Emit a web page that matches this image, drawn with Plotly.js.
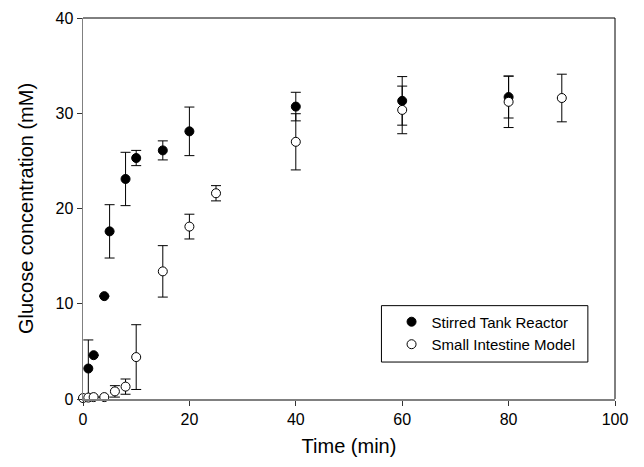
<!DOCTYPE html>
<html>
<head>
<meta charset="utf-8">
<script src="https://cdn.plot.ly/plotly-3.0.1.min.js"></script>
<style>html,body{margin:0;padding:0;background:#fff;}#chart{width:644px;height:467px;}</style>
</head>
<body>
<div id="chart"></div>
<script>
// Stirred Tank Reactor (filled circles)
var strTime = [1, 2, 4, 5, 8, 10, 15, 20, 40, 60, 80];
var strGlc  = [3.2, 4.6, 10.8, 17.6, 23.1, 25.3, 26.1, 28.1, 30.7, 31.3, 31.7];
var strErr  = [3.0, 0, 0, 2.8, 2.8, 0.8, 1.0, 2.55, 1.5, 2.55, 2.2];

// Small Intestine Model (open circles)
var simTime = [0, 1, 2, 4, 6, 8, 10, 15, 20, 25, 40, 60, 80, 90];
var simGlc  = [0.1, 0.15, 0.2, 0.2, 0.8, 1.3, 4.4, 13.4, 18.1, 21.6, 27.0, 30.35, 31.2, 31.6];
var simErr  = [0, 0, 0, 0, 0.6, 0.8, 3.4, 2.7, 1.3, 0.8, 2.95, 2.5, 2.7, 2.5];

var xTicks = [0, 20, 40, 60, 80, 100];
var yTicks = [0, 10, 20, 30, 40];

var FONT = 'Liberation Sans, Arial, sans-serif';

var traces = [
  {
    x: strTime, y: strGlc, type: 'scatter', mode: 'markers',
    name: 'Stirred Tank Reactor', cliponaxis: false,
    marker: {symbol: 'circle', size: 9, color: '#000', line: {color: '#000', width: 1}},
    error_y: {type: 'data', array: strErr, visible: true, color: '#000', thickness: 1, width: 5}
  },
  {
    x: simTime, y: simGlc, type: 'scatter', mode: 'markers',
    name: 'Small Intestine Model', cliponaxis: false,
    marker: {symbol: 'circle', size: 9, color: '#fff', line: {color: '#000', width: 1}},
    error_y: {type: 'data', array: simErr, visible: true, color: '#000', thickness: 1, width: 5}
  }
];

var layout = {
  width: 644, height: 467,
  margin: {l: 83, r: 29, t: 18, b: 68},
  paper_bgcolor: '#fff', plot_bgcolor: '#fff',
  font: {family: FONT, color: '#000'},
  showlegend: true,
  legend: {
    x: 0.58, y: 0.2455, xanchor: 'left', yanchor: 'top',
    bgcolor: 'rgba(0,0,0,0)', borderwidth: 0,
    font: {family: FONT, size: 15, color: '#000'},
    tracegroupgap: 0
  },
  xaxis: {
    range: [0, 100], tickvals: xTicks, ticktext: xTicks.map(String),
    showgrid: false, zeroline: false,
    showline: true, linecolor: '#808080', linewidth: 1.5,
    ticks: 'outside', ticklen: 5, tickwidth: 1, tickcolor: '#333',
    tickfont: {family: FONT, size: 16, color: '#000'},
    title: {text: 'Time (min)', font: {family: FONT, size: 20, color: '#000'}, standoff: 12},
    automargin: false
  },
  yaxis: {
    range: [0, 40], tickvals: yTicks, ticktext: yTicks.map(String),
    showgrid: false, zeroline: false,
    showline: true, linecolor: '#808080', linewidth: 1.5,
    ticks: 'outside', ticklen: 5, tickwidth: 1, tickcolor: '#333',
    tickfont: {family: FONT, size: 16, color: '#000'},
    title: {text: 'Glucose concentration (mM)', font: {family: FONT, size: 20, color: '#000'}, standoff: 16},
    automargin: false
  },
  shapes: [
    {type: 'line', xref: 'paper', yref: 'paper', x0: 0, x1: 1, y0: 1, y1: 1, line: {color: '#000', width: 1}},
    {type: 'line', xref: 'paper', yref: 'paper', x0: 1, x1: 1, y0: 0, y1: 1, line: {color: '#000', width: 1}},
    {type: 'rect', xref: 'paper', yref: 'paper', x0: 0.561, x1: 0.949, y0: 0.097, y1: 0.245, line: {color: '#000', width: 1}, fillcolor: 'rgba(0,0,0,0)'}
  ]
};

Plotly.newPlot('chart', traces, layout, {displayModeBar: false, staticPlot: true});
</script>
</body>
</html>
